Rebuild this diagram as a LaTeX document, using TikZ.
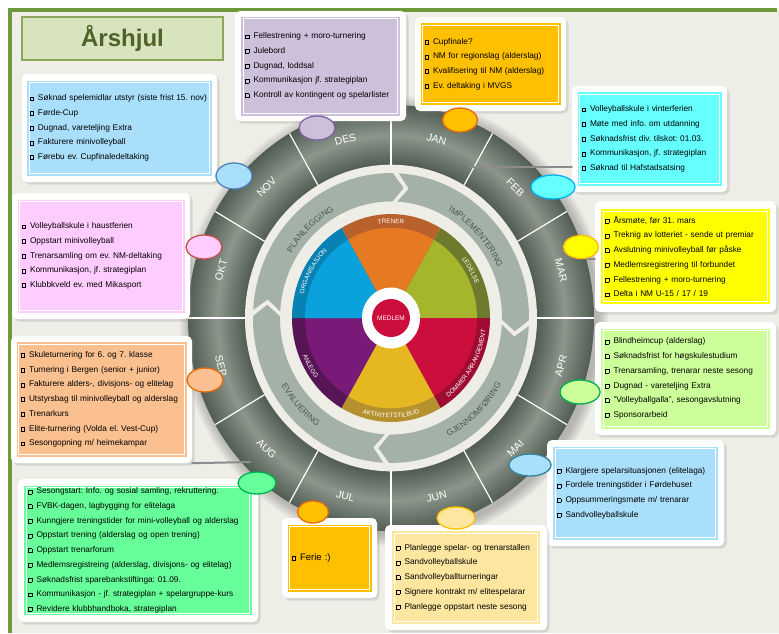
\documentclass[tikz,border=0pt]{standalone}
\usepackage{fontspec}
\setmainfont{Liberation Sans}
\usetikzlibrary{positioning,shapes.geometric,shadows,decorations.text}
\frenchspacing

\definecolor{bgcream}{HTML}{EEEDE6}
\definecolor{framegreen}{HTML}{6E9A3C}
\definecolor{titlefill}{HTML}{D7E4BD}
\definecolor{titleedge}{HTML}{8AA75A}
\definecolor{titletext}{HTML}{4F6228}
\definecolor{ringdark}{HTML}{515C52}
\definecolor{ringlight}{HTML}{8C968B}
\definecolor{procfill}{HTML}{A4B1A9}
\definecolor{procink}{HTML}{4B5651}
\definecolor{hookgrey}{HTML}{8C8C8C}
% pie
\definecolor{trenerin}{HTML}{E67A22}\definecolor{trenerband}{HTML}{B8612C}
\definecolor{ledin}{HTML}{A5B52C}\definecolor{ledband}{HTML}{6E7B2D}
\definecolor{domin}{HTML}{CC0E3D}\definecolor{domband}{HTML}{9E0C32}
\definecolor{aktin}{HTML}{E5B822}\definecolor{aktband}{HTML}{B5922F}
\definecolor{anlin}{HTML}{7A1A78}\definecolor{anlband}{HTML}{581556}
\definecolor{orgin}{HTML}{0BA1DD}\definecolor{orgband}{HTML}{0782B3}
\definecolor{medlemred}{HTML}{CC0E3D}
% month boxes
\definecolor{novcol}{HTML}{AADFFB}\definecolor{novedge}{HTML}{4F81BD}
\definecolor{descol}{HTML}{CCC0DA}\definecolor{desedge}{HTML}{8064A2}
\definecolor{jancol}{HTML}{FFC000}\definecolor{janedge}{HTML}{E46C0A}
\definecolor{febcol}{HTML}{66FFFF}\definecolor{febedge}{HTML}{00B0F0}
\definecolor{marcol}{HTML}{FFFF00}\definecolor{maredge}{HTML}{FFC000}
\definecolor{aprcol}{HTML}{CCFF99}\definecolor{apredge}{HTML}{00B050}
\definecolor{maicol}{HTML}{AADFFB}\definecolor{maiedge}{HTML}{31859C}
\definecolor{juncol}{HTML}{FDE7A0}\definecolor{junedge}{HTML}{FFC000}
\definecolor{julcol}{HTML}{FFC000}\definecolor{juledge}{HTML}{E46C0A}
\definecolor{augcol}{HTML}{66FF99}\definecolor{augedge}{HTML}{00B050}
\definecolor{sepcol}{HTML}{FAC090}\definecolor{sepedge}{HTML}{E46C0A}
\definecolor{oktcol}{HTML}{FFCCFF}\definecolor{oktedge}{HTML}{C0504D}

\pgfdeclareradialshading{monthring}{\pgfpoint{0bp}{0bp}}{color(0bp)=(ringdark); color(18bp)=(ringdark); color(21.4bp)=(ringlight); color(25bp)=(ringdark); color(50bp)=(ringdark)}

\newcommand{\listfont}{\fontsize{8.3}{14.7}\selectfont}
\newcommand{\sqb}{{\fboxsep=0pt\fboxrule=0.55pt\raisebox{0.3pt}{\fbox{\rule{0pt}{3.4pt}\hspace{2.8pt}}}}\hspace{4.4pt}}

\tikzset{
  card/.style={rectangle, rounded corners=5pt, fill=white, drop shadow={shadow xshift=2.5pt, shadow yshift=-2.5pt, opacity=0.22}},
  listbox/.style={rectangle, fill=#1, draw=#1, double=white, double distance=0.8pt, line width=1.8pt, inner xsep=2pt, inner ysep=0pt, align=left, font=\listfont, text=black},
  monthmark/.style n args={4}{ellipse, fill=#1, draw=#2, line width=1.3pt, minimum width=#3, minimum height=#4, inner sep=0pt},
  monthlabel/.style={text=white, font=\fontsize{10.5}{12}\selectfont, inner sep=0pt},
  bandtext/.style={decorate, decoration={text along path, text align=center, text={|\color{white}\fontsize{6.3}{7}\selectfont|#1}}},
  proctext/.style={decorate, decoration={text along path, text align=center, text={|\color{procink}\fontsize{8.5}{10}\selectfont|#1}}},
  hookline/.style={draw=hookgrey, line width=2pt, line cap=round},
  titlebox/.style={rectangle, fill=titlefill, draw=titleedge, line width=1.2pt, minimum width=201pt, minimum height=43pt, font=\fontsize{24}{28}\selectfont\bfseries, text=titletext},
  medlemdot/.style={circle, fill=medlemred, minimum size=38pt, inner sep=0pt, text=white, font=\fontsize{6.5}{7}\selectfont}
}

\begin{document}
\begin{tikzpicture}[x=1pt, y=1pt]
\useasboundingbox (0,0) rectangle (779,-633);
\fill[white] (0,0) rectangle (779,-633);
\fill[bgcream] (10,-10) rectangle (779,-633);
\draw[framegreen, line width=3.5pt] (10,-633) -- (10,-10) -- (777,-10);

\node[titlebox] (title) at (122.5,-38.5) {Årshjul};

% the wheel
\begin{scope}[shift={(391,-318)}, yscale=1.05]
  \foreach \k in {1,...,7}
    \fill[black, opacity=0.035] (3,-3) circle[radius=203+1.6*\k];
  \shade[shading=monthring] (0,0) circle[radius=203];
  \fill[bgcream] (0,0) circle[radius=146];
  \foreach \a in {0,30,...,330}
    \draw[white, line width=1.2pt] (\a:146) -- (\a:203);
  \foreach \m [count=\i] in {JAN,FEB,MAR,APR,MAI,JUN,JUL,AUG,SEP,OKT,NOV,DES}{
    \pgfmathsetmacro\a{105-30*\i}
    \pgfmathsetmacro\rot{sin(\a)>0 ? \a-90 : \a+90}
    \node[monthlabel, rotate=\rot] (\m) at (\a:176) {\m};
  }
  % process arrows
  \foreach \s in {178,88,-2,-92}{
    \pgfmathsetmacro\sa{\s-1.2}
    \pgfmathsetmacro\ea{\s-88.8}
    \pgfmathsetmacro\sn{\s-6.2}
    \pgfmathsetmacro\et{\s-93.8}
    \fill[procfill] (\sa:138) arc[start angle=\sa, end angle=\ea, radius=138] -- (\et:124.5)
      -- (\ea:111) arc[start angle=\ea, end angle=\sa, radius=111] -- (\sn:124.5) -- cycle;
  }
  \path[proctext=PLANLEGGING] (178:117) arc[start angle=178, end angle=88, radius=117];
  \path[proctext=IMPLEMENTERING] (88:117) arc[start angle=88, end angle=-2, radius=117];
  \path[proctext=GJENNOMFØRING] (-92:127) arc[start angle=-92, end angle=-2, radius=127];
  \path[proctext=EVALUERING] (-182:127) arc[start angle=-182, end angle=-92, radius=127];
  % pie
  \foreach \a/\bandc/\innerc in {60/trenerband/trenerin, 0/ledband/ledin, -60/domband/domin,
      -120/aktband/aktin, 180/anlband/anlin, 120/orgband/orgin}{
    \fill[\bandc] (0,0) -- (\a:99) arc[start angle=\a, end angle=\a+60, radius=99] -- cycle;
    \fill[\innerc] (0,0) -- (\a:86) arc[start angle=\a, end angle=\a+60, radius=86] -- cycle;
  }
  \path[bandtext=TRENER] (120:90.3) arc[start angle=120, end angle=60, radius=90.3];
  \path[bandtext=LEDELSE] (60:90.3) arc[start angle=60, end angle=0, radius=90.3];
  \path[bandtext=ORGANISASJON] (180:90.3) arc[start angle=180, end angle=120, radius=90.3];
  \path[bandtext=ANLEGG] (180:95.2) arc[start angle=180, end angle=240, radius=95.2];
  \path[bandtext=AKTIVITETSTILBUD] (240:95.2) arc[start angle=240, end angle=300, radius=95.2];
  \path[bandtext=DOMMER ARRANGEMENT] (300:95.2) arc[start angle=300, end angle=360, radius=95.2];
  \fill[white] (0,0) circle[radius=29];
  \node[medlemdot] (medlem) at (0,0) {MEDLEM};
\end{scope}

% month cards
\node[card, minimum width=195pt, minimum height=108pt] (novcard) at (119.5,-128) {};
\node[listbox=novcol, text width=179.6pt, inner xsep=0.5pt, minimum height=90.6pt] (novlist) at (novcard.center)
  {\sqb Søknad spelemidlar utstyr (siste frist 15. nov)\\ \sqb Førde-Cup\\ \sqb Dugnad, vareteljing Extra\\
   \sqb Fakturere minivolleyball\\ \sqb Førebu ev. Cupfinaledeltaking};

\node[card, minimum width=171pt, minimum height=110pt] (descard) at (320.5,-66) {};
\node[listbox=descol, text width=150.6pt, minimum height=94.6pt] (deslist) at (descard.center)
  {\sqb Fellestrening + moro-turnering\\ \sqb Julebord\\ \sqb Dugnad, loddsal\\
   \sqb Kommunikasjon jf. strategiplan\\ \sqb Kontroll av kontingent og spelarlister};

\node[card, minimum width=151pt, minimum height=94pt] (jancard) at (490.5,-64) {};
\node[listbox=jancol, text width=131.6pt, minimum height=77.6pt] (janlist) at (jancard.center)
  {\sqb Cupfinale?\\ \sqb NM for regionslag (alderslag)\\ \sqb Kvalifisering til NM (alderslag)\\
   \sqb Ev. deltaking i MVGS};

\node[card, minimum width=155pt, minimum height=106pt] (febcard) at (649.5,-139) {};
\node[listbox=febcol, text width=135.6pt, minimum height=89.6pt] (feblist) at (febcard.center)
  {\sqb Volleyballskule i vinterferien\\ \sqb Møte med info. om utdanning\\ \sqb Søknadsfrist div. tilskot: 01.03.\\
   \sqb Kommunikasjon, jf. strategiplan\\ \sqb Søknad til Hafstadsatsing};

\node[card, minimum width=181pt, minimum height=111pt] (marcard) at (685.5,-256.5) {};
\node[listbox=marcol, text width=160.6pt, minimum height=90.6pt] (marlist) at (marcard.center)
  {\sqb Årsmøte, før 31. mars\\ \sqb Treknig av lotteriet - sende ut premiar\\ \sqb Avslutning minivolleyball før påske\\
   \sqb Medlemsregistrering til forbundet\\ \sqb Fellestrening + moro-turnering\\ \sqb Delta i NM U-15 / 17 / 19};

\node[card, minimum width=181pt, minimum height=113pt] (aprcard) at (685.5,-378.5) {};
\node[listbox=aprcol, text width=160.6pt, minimum height=95.6pt] (aprlist) at (aprcard.center)
  {\sqb Blindheimcup (alderslag)\\ \sqb Søknadsfrist for høgskulestudium\\ \sqb Trenarsamling, trenarar neste sesong\\
   \sqb Dugnad - vareteljing Extra\\ \sqb "Volleyballgalla", sesongavslutning\\ \sqb Sponsorarbeid};

\node[card, minimum width=177pt, minimum height=106pt] (maicard) at (635.5,-493) {};
\node[listbox=maicol, text width=156.6pt, minimum height=88.6pt] (mailist) at (maicard.center)
  {\sqb Klargjere spelarsituasjonen (elitelaga)\\ \sqb Fordele treningstider i Førdehuset\\
   \sqb Oppsummeringsmøte m/ trenarar\\ \sqb Sandvolleyballskule};

\node[card, minimum width=162pt, minimum height=105pt] (juncard) at (466,-577.5) {};
\node[listbox=juncol, text width=139.6pt, minimum height=88.6pt] (junlist) at (juncard.center)
  {\sqb Planlegge spelar- og trenarstallen\\ \sqb Sandvolleyballskule\\ \sqb Sandvolleyballturneringar\\
   \sqb Signere kontrakt m/ elitespelarar\\ \sqb Planlegge oppstart neste sesong};

\node[card, minimum width=95pt, minimum height=80pt] (julcard) at (329.5,-558) {};
\node[listbox=julcol, text width=75.6pt, minimum height=62.6pt, font=\fontsize{9.5}{11}\selectfont] (jullist) at (julcard.center)
  {\sqb Ferie :)};

\node[card, minimum width=240pt, minimum height=143pt] (augcard) at (138,-550.5) {};
\node[listbox=augcol, text width=219.6pt, minimum height=122.6pt] (auglist) at (augcard.center)
  {\sqb Sesongstart: Info. og sosial samling, rekruttering.\\ \sqb FVBK-dagen, lagbygging for elitelaga\\
   \sqb Kunngjere treningstider for mini-volleyball og alderslag\\ \sqb Oppstart trening (alderslag og open trening)\\
   \sqb Oppstart trenarforum\\ \sqb Medlemsregistreing (alderslag, divisjons- og elitelag)\\
   \sqb Søknadsfrist sparebankstiftinga: 01.09.\\ \sqb Kommunikasjon - jf. strategiplan + spelargruppe-kurs\\
   \sqb Revidere klubbhandboka, strategiplan};

\node[card, minimum width=181pt, minimum height=127pt] (sepcard) at (101.5,-399.5) {};
\node[listbox=sepcol, text width=161.6pt, minimum height=110.6pt] (seplist) at (sepcard.center)
  {\sqb Skuleturnering for 6. og 7. klasse\\ \sqb Turnering i Bergen (senior + junior)\\
   \sqb Fakturere alders-, divisjons- og elitelag\\ \sqb Utstyrsbag til minivolleyball og alderslag\\
   \sqb Trenarkurs\\ \sqb Elite-turnering (Volda el. Vest-Cup)\\ \sqb Sesongopning m/ heimekampar};

\node[card, minimum width=178pt, minimum height=126pt] (oktcard) at (101,-256) {};
\node[listbox=oktcol, text width=158.6pt, minimum height=108.6pt] (oktlist) at (oktcard.center)
  {\sqb Volleyballskule i haustferien\\ \sqb Oppstart minivolleyball\\ \sqb Trenarsamling om ev. NM-deltaking\\
   \sqb Kommunikasjon, jf. strategiplan\\ \sqb Klubbkveld ev. med Mikasport};

% grey hooks
\coordinate (febhook) at (470,-167);
\coordinate (marhook) at (586,-259);
\coordinate (sephook) at (250,-462);
\draw[hookline] (febhook) -- (febhook -| febcard.west);
\draw[hookline] (marhook) -- (marhook -| marcard.west);
\draw[hookline] (sepcard.south east) -- (sephook);

% month marks
\node[monthmark={novcol}{novedge}{36pt}{26pt}] (novmark) at (234,-176) {};
\node[monthmark={descol}{desedge}{36pt}{24pt}] (desmark) at (317,-128) {};
\node[monthmark={jancol}{janedge}{35pt}{24pt}] (janmark) at (460,-120) {};
\node[monthmark={febcol}{febedge}{44pt}{24pt}] (febmark) at (553,-187) {};
\node[monthmark={marcol}{maredge}{35pt}{23pt}] (marmark) at (581,-247) {};
\node[monthmark={aprcol}{apredge}{40pt}{24pt}] (aprmark) at (580,-392) {};
\node[monthmark={maicol}{maiedge}{42pt}{22pt}] (maimark) at (530,-465) {};
\node[monthmark={juncol}{junedge}{38pt}{22pt}] (junmark) at (456,-518) {};
\node[monthmark={julcol}{juledge}{31pt}{22pt}] (julmark) at (313,-512) {};
\node[monthmark={augcol}{augedge}{38pt}{22pt}] (augmark) at (257,-483) {};
\node[monthmark={sepcol}{sepedge}{36pt}{24pt}] (sepmark) at (205,-380) {};
\node[monthmark={oktcol}{oktedge}{36pt}{24pt}] (oktmark) at (204,-247) {};
\end{tikzpicture}
\end{document}
